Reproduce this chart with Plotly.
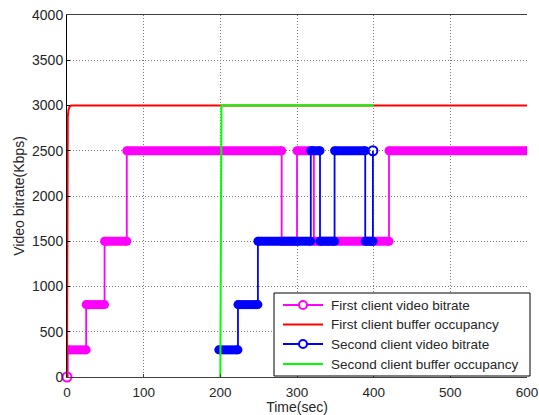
import plotly.graph_objects as go

# ---------------- data ----------------
# First client video bitrate: step change times (sec) and bitrate values (Kbps)
first_t = [0, 1, 25, 49, 78, 280, 300, 322, 420, 600]
first_v = [0, 300, 800, 1500, 2500, 1500, 2500, 1500, 2500, 2500]

# First client buffer occupancy
red_t = [0, 0.3, 1, 2, 3, 5, 600]
red_v = [0, 2000, 2880, 2950, 2980, 3000, 3000]

# Second client video bitrate
second_t = [198, 223, 249, 318, 330, 349, 389, 399]
second_v = [300, 800, 1500, 2500, 1500, 2500, 1500, 2500]

# Second client buffer occupancy
green_t = [200, 200.6, 201.5, 400]
green_v = [0, 2900, 3000, 3000]

x_ticks = [0, 100, 200, 300, 400, 500, 600]
y_ticks = [0, 500, 1000, 1500, 2000, 2500, 3000, 3500, 4000]

legend_names = ["First client video bitrate", "First client buffer occupancy",
                "Second client video bitrate", "Second client buffer occupancy"]
legend_colors = ["#FF00FF", "#FF0000", "#0000FF", "#00FF00"]
legend_marker = [True, False, True, False]

MAG, RED, BLUE, GREEN = legend_colors
FONT = "Liberation Sans, Arial, sans-serif"
TXT = "#262626"
BAND = 9

# plot-area geometry (pixels) used to place the legend box in paper coords
L, R, T, B = 67, 12, 15, 38
W, H = 539, 415
PW, PH = W - L - R, H - T - B


def px(xp):
    return (xp - L) / PW


def py(yp):
    return (H - B - yp) / PH


def bands(ts, vs):
    xs, ys = [], []
    for i in range(len(ts) - 1):
        if vs[i] > 0:
            xs += [ts[i], ts[i + 1], None]
            ys += [vs[i], vs[i], None]
    return xs, ys


fig = go.Figure()

# first client bitrate
bx, by = bands(first_t, first_v)
fig.add_trace(go.Scatter(x=bx, y=by, mode="lines+markers", name=legend_names[0], showlegend=False,
                         line=dict(color=MAG, width=BAND),
                         marker=dict(size=BAND, color=MAG, line=dict(width=0))))
fig.add_trace(go.Scatter(x=first_t, y=first_v, mode="lines", line_shape="hv", showlegend=False,
                         line=dict(color=MAG, width=1.8)))

# first client buffer
fig.add_trace(go.Scatter(x=red_t, y=red_v, mode="lines", name=legend_names[1], showlegend=False,
                         line=dict(color=RED, width=2)))
fig.add_trace(go.Scatter(x=first_t[:1], y=first_v[:1], mode="markers", showlegend=False,
                         cliponaxis=False,
                         marker=dict(symbol="circle-open", size=9, color=MAG, line=dict(width=2))))

# second client bitrate
bx, by = bands(second_t, second_v)
fig.add_trace(go.Scatter(x=bx, y=by, mode="lines+markers", name=legend_names[2], showlegend=False,
                         line=dict(color=BLUE, width=BAND),
                         marker=dict(size=BAND, color=BLUE, line=dict(width=0))))
fig.add_trace(go.Scatter(x=second_t, y=second_v, mode="lines", line_shape="hv", showlegend=False,
                         line=dict(color=BLUE, width=1.8)))
fig.add_trace(go.Scatter(x=second_t[-1:], y=second_v[-1:], mode="markers", showlegend=False,
                         marker=dict(symbol="circle-open", size=9, color=BLUE, line=dict(width=2))))

# second client buffer
fig.add_trace(go.Scatter(x=green_t, y=green_v, mode="lines", name=legend_names[3], showlegend=False,
                         line=dict(color=GREEN, width=2)))

# ---------------- legend (box, samples, texts) ----------------
shapes, annos = [], []
shapes.append(dict(type="rect", xref="paper", yref="paper",
                   x0=px(274), x1=px(530), y0=py(376), y1=py(293),
                   line=dict(color="black", width=1), fillcolor="white", layer="above"))
row_y = [305, 324.5, 344, 364]
for name, col, mk, yy in zip(legend_names, legend_colors, legend_marker, row_y):
    shapes.append(dict(type="line", xref="paper", yref="paper",
                       x0=px(283), x1=px(323), y0=py(yy), y1=py(yy),
                       line=dict(color=col, width=2), layer="above"))
    if mk:
        shapes.append(dict(type="circle", xref="paper", yref="paper",
                           xsizemode="pixel", ysizemode="pixel",
                           xanchor=px(303), yanchor=py(yy), x0=-4, x1=4, y0=-4, y1=4,
                           line=dict(color=col, width=2), fillcolor="white", layer="above"))
    annos.append(dict(xref="paper", yref="paper", x=px(329), y=py(yy),
                      xanchor="left", yanchor="middle", showarrow=False, text=name,
                      font=dict(family=FONT, size=13.5, color=TXT)))

fig.update_layout(
    width=W, height=H,
    margin=dict(l=L, r=R, t=T, b=B),
    paper_bgcolor="white", plot_bgcolor="white",
    font=dict(family=FONT, size=12, color=TXT),
    showlegend=False,
    shapes=shapes, annotations=annos,
)
fig.update_xaxes(range=[0, 600], tickvals=x_ticks, ticktext=[str(v) for v in x_ticks],
                 automargin=False, ticklabelstandoff=3,
                 showgrid=True, gridcolor="#7a7a7a", griddash="1px,2px", gridwidth=1,
                 zeroline=False, showline=True, linecolor="#404040", linewidth=1, mirror=True,
                 ticks="inside", ticklen=3, tickcolor="#404040",
                 tickfont=dict(family=FONT, size=13.5, color=TXT),
                 title=dict(text="Time(sec)", font=dict(family=FONT, size=14, color=TXT),
                            standoff=2))
fig.update_yaxes(range=[0, 4000], tickvals=y_ticks, ticktext=[str(v) for v in y_ticks],
                 automargin=False,
                 showgrid=True, gridcolor="#7a7a7a", griddash="1px,2px", gridwidth=1,
                 zeroline=False, showline=True, linecolor="black", linewidth=1, mirror=False,
                 ticks="inside", ticklen=3, tickcolor="black",
                 tickfont=dict(family=FONT, size=14, color=TXT),
                 title=dict(text="Video bitrate(Kbps)", font=dict(family=FONT, size=14, color=TXT),
                            standoff=4))

fig.write_html("out.html")
